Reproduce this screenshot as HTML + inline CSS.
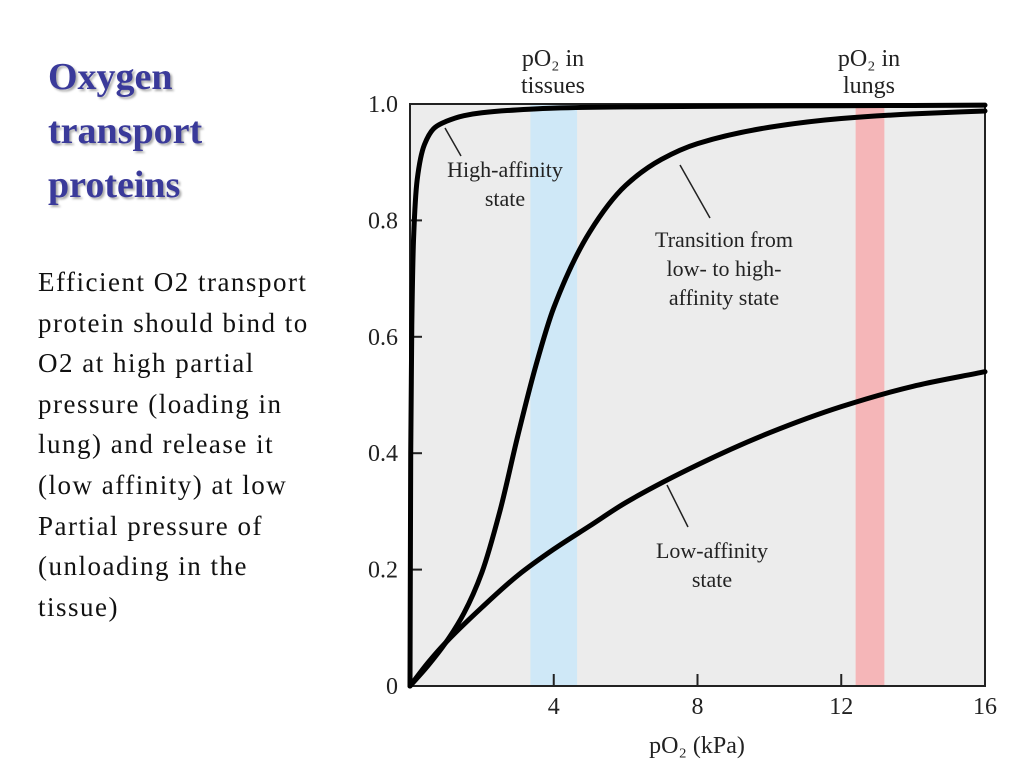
<!DOCTYPE html>
<html><head><meta charset="utf-8"><style>
body{margin:0;width:1024px;height:768px;background:#fff;overflow:hidden;position:relative;font-family:"Liberation Serif",serif}
#title{position:absolute;left:48px;top:50px;font:bold 38px/54px "Liberation Serif",serif;color:#3a3a9a;text-shadow:2px 2px 2px #aaa}
#body{position:absolute;left:38px;top:262px;font:27px/40.6px "Liberation Serif",serif;letter-spacing:1.5px;color:#111;width:330px;white-space:nowrap}
svg{position:absolute;left:0;top:0}
</style></head><body>
<div id="title">Oxygen<br>transport<br>proteins</div>
<div id="body">Efficient O2 transport<br>protein should bind to<br>O2 at high partial<br>pressure (loading in<br>lung) and release it<br>(low affinity) at low<br>Partial pressure of<br>(unloading in the<br>tissue)</div>
<svg id="chart" width="1024" height="768"></svg>
<script>
const xTicks=[4,8,12,16];
const yTicks=[0,0.2,0.4,0.6,0.8,1.0];
const yTickLabels=["0","0.2","0.4","0.6","0.8","1.0"];
const highX=[0,0.02,0.05,0.1,0.2,0.4,0.7,1,1.5,2,3,4,6,8,12,16];
const highY=[0,0.4,0.62,0.77,0.87,0.93,0.96,0.97,0.98,0.985,0.99,0.993,0.995,0.996,0.997,0.998];
const transX=[0,0.5,1,1.5,2,2.5,3,3.5,4,5,6,7,8,10,12,14,16];
const transY=[0,0.035,0.075,0.125,0.195,0.30,0.43,0.55,0.65,0.78,0.86,0.905,0.932,0.96,0.975,0.983,0.988];
const lowX=[0,0.5,1,2,3,4,5,6,8,10,12,14,16];
const lowY=[0,0.04,0.075,0.135,0.19,0.235,0.275,0.315,0.38,0.435,0.48,0.515,0.54];
const bands=[[3.35,4.65,"#cfe8f7","tissue-band"],[12.4,13.2,"#f5b6b8","lung-band"]];
const X0=410,X1=985,Y0=686,Y1=104;
const sx=v=>X0+(X1-X0)*v/16, sy=v=>Y0-(Y0-Y1)*v;
const svg=document.getElementById('chart');const NS="http://www.w3.org/2000/svg";
function mk(t,a,txt){const e=document.createElementNS(NS,t);for(const k in a)e.setAttribute(k,a[k]);if(txt!==undefined)e.textContent=txt;svg.appendChild(e);return e;}
let e=mk('rect',{x:X0,y:Y1,width:X1-X0,height:Y0-Y1,fill:'#ececec'});


bands.forEach(b=>{const r=mk('rect',{x:sx(b[0]),y:Y1,width:sx(b[1])-sx(b[0]),height:Y0-Y1,fill:b[2]});

});
e=mk('rect',{x:X0,y:Y1,width:X1-X0,height:Y0-Y1,fill:'none',stroke:'#222','stroke-width':2});


yTicks.forEach((v,i)=>{mk('line',{x1:X0,x2:X0+12,y1:sy(v),y2:sy(v),stroke:'#222','stroke-width':2});
const t=mk('text',{x:X0-12,y:sy(v)+8,'text-anchor':'end','font-size':24,fill:'#222'},yTickLabels[i]);

});
xTicks.forEach(v=>{if(v<16)mk('line',{x1:sx(v),x2:sx(v),y1:Y0,y2:Y0-12,stroke:'#222','stroke-width':2});
const t=mk('text',{x:sx(v),y:Y0+28,'text-anchor':'middle','font-size':24,fill:'#222'},String(v));

});
function path(xs,ys){
  const n=xs.length,px=xs.map(sx),py=ys.map(sy),d=[],m=[];
  for(let i=0;i<n-1;i++)d.push((py[i+1]-py[i])/(px[i+1]-px[i]));
  m[0]=d[0];m[n-1]=d[n-2];
  for(let i=1;i<n-1;i++){m[i]=(d[i-1]*d[i]<=0)?0:(()=>{const h0=px[i]-px[i-1],h1=px[i+1]-px[i];const w1=2*h1+h0,w2=h1+2*h0;return (w1+w2)/(w1/d[i-1]+w2/d[i]);})();}
  let s='M'+px[0]+','+py[0];
  for(let i=0;i<n-1;i++){const h=(px[i+1]-px[i])/3;
    s+=` C${px[i]+h},${py[i]+m[i]*h} ${px[i+1]-h},${py[i+1]-m[i+1]*h} ${px[i+1]},${py[i+1]}`;}
  return s;}
[[highX,highY,'high-affinity-curve'],[transX,transY,'transition-curve'],[lowX,lowY,'low-affinity-curve']].forEach(s=>{
const p=mk('path',{d:path(s[0],s[1]),fill:'none',stroke:'#000','stroke-width':5,'stroke-linecap':'round','stroke-linejoin':'round'});

});
function label(lines,cx,y0,dy,name,fs){lines.forEach((l,i)=>{const t=mk('text',{x:cx,y:y0+i*dy,'text-anchor':'middle','font-size':fs||22,fill:'#222'},l);

});}
label(["High-affinity","state"],505,177,29,'high-affinity-label');
label(["Transition from","low- to high-","affinity state"],724,247,29,'transition-label');
label(["Low-affinity","state"],712,558,29,'low-affinity-label');
label(["pO\u2082 in","tissues"],553,66,27,'tissues-label',24);
label(["pO\u2082 in","lungs"],869,66,27,'lungs-label',24);
label(["pO\u2082 (kPa)"],697,753,0,'x-axis-title',24);
[[445,128,461,156],[680,165,710,218],[667,485,688,527]].forEach(l=>mk('line',{x1:l[0],y1:l[1],x2:l[2],y2:l[3],stroke:'#222','stroke-width':1.5}));
</script>
</body></html>
